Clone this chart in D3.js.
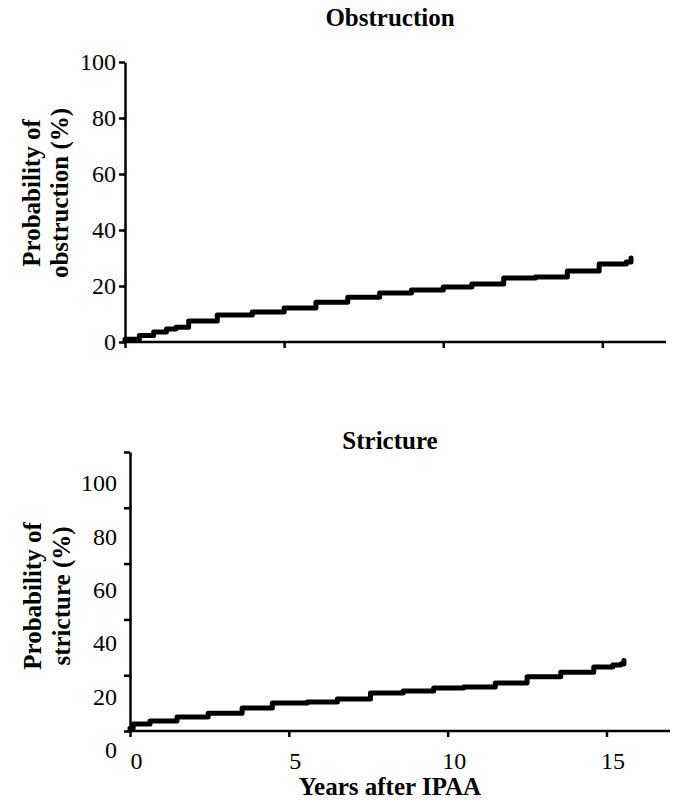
<!DOCTYPE html>
<html>
<head>
<meta charset="utf-8">
<script src="https://cdn.jsdelivr.net/npm/d3@7"></script>
<style>
  body { margin: 0; background: #fff; }
</style>
</head>
<body>
<script>
// Kaplan-Meier style curves (years after IPAA, %)
var obstructionYears = [0, 0.45, 0.9, 1.3, 1.6, 2.0, 2.9, 4.0, 5.0, 6.0, 7.0, 8.0, 9.0, 10.0, 10.9, 11.9, 12.9, 13.9, 14.9, 15.75, 15.9];
var obstructionProb  = [1, 2.3, 3.6, 4.6, 5.3, 7.5, 9.6, 10.7, 12.1, 14.2, 16, 17.5, 18.6, 19.6, 20.7, 22.9, 23.2, 25.4, 27.9, 28.6, 30];

var strictureYears = [0, 0.1, 0.63, 1.48, 2.46, 3.53, 4.48, 5.58, 6.53, 7.57, 8.6, 9.56, 10.5, 11.5, 12.5, 13.56, 14.6, 15.2, 15.45, 15.55];
var strictureProb  = [1, 2.5, 3.6, 5, 6.4, 8.2, 10, 10.4, 11.5, 13.6, 14.3, 15.4, 15.8, 17.2, 19.4, 21.1, 22.9, 23.7, 24, 25.3];

var yTicks = [0, 20, 40, 60, 80, 100];
var xTicks = [0, 5, 10, 15];

var width = 678, height = 804;
var serif = '"Liberation Serif", "Times New Roman", serif';

var svg = d3.select('body').append('svg')
    .attr('width', width)
    .attr('height', height)
    .style('font-family', serif);

function drawPanel(p) {
    var g = svg.append('g');

    var x = d3.scaleLinear().domain([0, 17]).range([p.left, p.right]);
    var y = d3.scaleLinear().domain([0, 100]).range([p.bottom, p.top]);

    // x axis
    var xAxis = g.append('g')
        .attr('transform', `translate(0, ${p.bottom})`)
        .call(d3.axisBottom(x).tickValues(xTicks).tickSize(6).tickSizeOuter(0)
            .tickFormat(p.xLabels ? d3.format('d') : ''));
    xAxis.select('.domain').attr('d', `M${p.left - 3},0H${p.right}`);
    xAxis.selectAll('text')
        .attr('dx', 6)
        .attr('dy', '1.2em');

    // y axis (ticks)
    g.append('g')
        .attr('transform', `translate(${p.left}, 0)`)
        .call(d3.axisLeft(y).tickValues(yTicks).tickSize(6).tickSizeOuter(0)
            .tickFormat(p.labelScale ? '' : d3.format('d')).tickPadding(3));

    // bottom panel's tick labels sit a bit lower than the ticks
    if (p.labelScale) {
        var yl = d3.scaleLinear().domain([0, 100]).range(p.labelScale);
        var lab = g.append('g')
            .attr('transform', `translate(${p.left - 13}, 0)`)
            .call(d3.axisLeft(yl).tickValues(yTicks).tickSize(0).tickPadding(0));
        lab.select('.domain').remove();
    }

    g.selectAll('g').attr('font-family', serif).attr('font-size', 24);
    g.selectAll('.tick text').attr('fill', '#000');
    g.selectAll('.domain').attr('stroke', '#000').attr('stroke-width', 2.5);
    g.selectAll('.tick line').attr('stroke', '#000').attr('stroke-width', 2.5);

    // title
    g.append('text')
        .attr('x', 390)
        .attr('y', p.titleY)
        .attr('text-anchor', 'middle')
        .attr('font-size', 25)
        .attr('font-weight', 'bold')
        .text(p.title);

    // y label, two lines
    p.yLabel.forEach(function(line, i) {
        g.append('text')
            .attr('transform', `translate(${p.yLabelX[i]}, ${p.yLabelY}) rotate(-90)`)
            .attr('text-anchor', 'middle')
            .attr('font-size', 25)
            .attr('font-weight', 'bold')
            .text(line);
    });

    // curve
    var line = d3.line()
        .x(d => x(d[0]))
        .y(d => y(d[1]))
        .curve(d3.curveStepAfter);

    g.append('path')
        .datum(d3.zip(p.years, p.values))
        .attr('d', line)
        .attr('fill', 'none')
        .attr('stroke', '#000')
        .attr('stroke-width', 5)
        .attr('stroke-linejoin', 'round')
        .attr('stroke-linecap', 'round');
}

drawPanel({
    title: 'Obstruction', titleY: 26,
    left: 125, right: 666, top: 62, bottom: 342,
    years: obstructionYears, values: obstructionProb,
    yLabel: ['Probability of', 'obstruction (%)'],
    yLabelX: [40, 68], yLabelY: 193,
    xLabels: false
});

drawPanel({
    title: 'Stricture', titleY: 449,
    left: 130, right: 670, top: 452, bottom: 731,
    years: strictureYears, values: strictureProb,
    yLabel: ['Probability of', 'stricture (%)'],
    yLabelX: [41, 70], yLabelY: 596,
    xLabels: true,
    labelScale: [750, 483]
});

// x axis title
svg.append('text')
    .attr('x', 390)
    .attr('y', 795)
    .attr('text-anchor', 'middle')
    .attr('font-size', 25)
    .attr('font-weight', 'bold')
    .text('Years after IPAA');
</script>
</body>
</html>
